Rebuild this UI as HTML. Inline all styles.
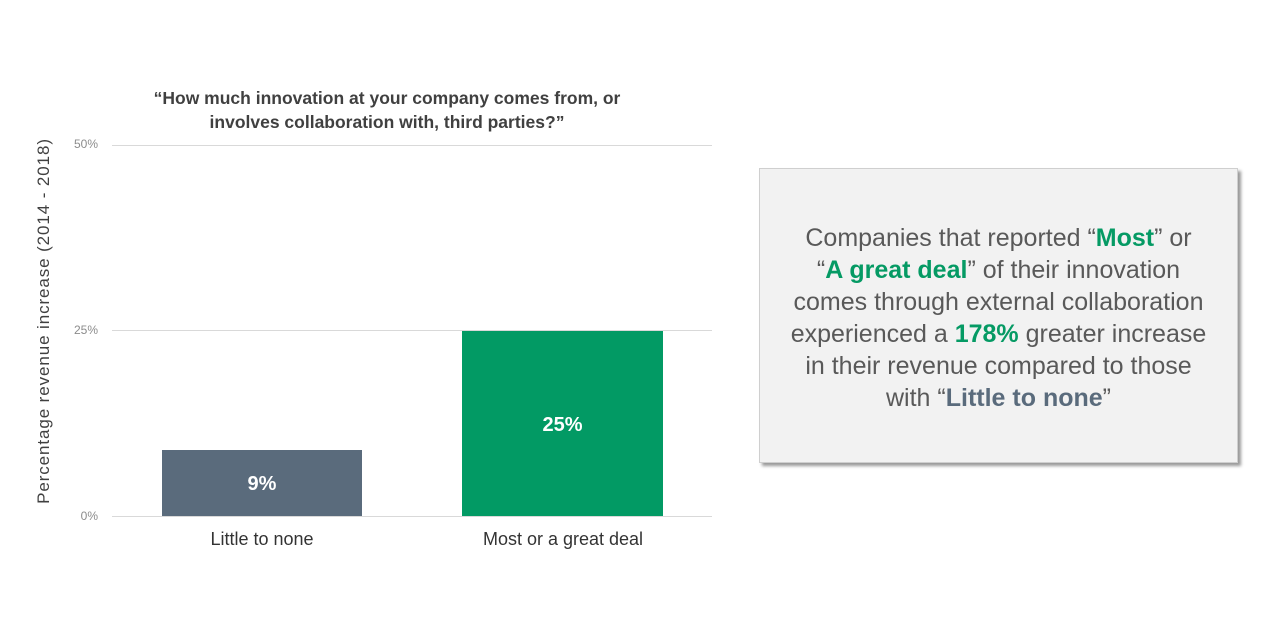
<!DOCTYPE html>
<html><head><style>
body{margin:0;width:1280px;height:637px;background:#fff;font-family:"Liberation Sans",sans-serif;position:relative;overflow:hidden}
.a{position:absolute}
.grid{position:absolute;left:112px;width:600px;height:1px;background:#d9d9d9}
.tick{position:absolute;left:60px;width:38px;text-align:right;font-size:12px;color:#8c8c8c}
.cat{position:absolute;top:529px;width:260px;text-align:center;font-size:18px;color:#333}
.box{position:absolute;left:759px;top:168px;width:477px;height:293px;background:#f2f2f2;border:1px solid #cfcfcf;box-shadow:3px 3px 3px #999}
.box p{margin:0;position:absolute;top:53px;left:0;width:100%;text-align:center;font-size:25px;line-height:32px;color:#595959}
.g{color:#059a64;font-weight:bold}.s{color:#5a6b7c;font-weight:bold}
</style></head><body>
<div class="a" style="left:87px;top:86px;width:600px;text-align:center;font-size:17.5px;line-height:24px;color:#404040;font-weight:bold">“How much innovation at your company comes from, or<br>involves collaboration with, third parties?”</div>
<div class="grid" style="top:145px"></div>
<div class="grid" style="top:330px"></div>
<div class="grid" style="top:516px"></div>
<div class="tick" style="top:137px">50%</div>
<div class="tick" style="top:323px">25%</div>
<div class="tick" style="top:509px">0%</div>
<div class="a" style="left:162px;top:450px;width:200px;height:66px;background:#5a6b7c;color:#fff;font-weight:bold;font-size:20px;text-align:center;line-height:68px">9%</div>
<div class="a" style="left:462px;top:331px;width:201px;height:185px;background:#029a64;color:#fff;font-weight:bold;font-size:20px;text-align:center;line-height:188px">25%</div>
<div class="cat" style="left:132px">Little to none</div>
<div class="cat" style="left:433px">Most or a great deal</div>
<div class="a" style="left:-156px;top:311px;width:400px;text-align:center;font-size:17px;letter-spacing:0.9px;white-space:nowrap;color:#404040;transform:rotate(-90deg)">Percentage revenue increase (2014 - 2018)</div>
<div class="box"><p>Companies that reported “<span class="g">Most</span>” or<br>“<span class="g">A great deal</span>” of their innovation<br>comes through external collaboration<br>experienced a <span class="g">178%</span> greater increase<br>in their revenue compared to those<br>with “<span class="s">Little to none</span>”</p></div>
</body></html>
